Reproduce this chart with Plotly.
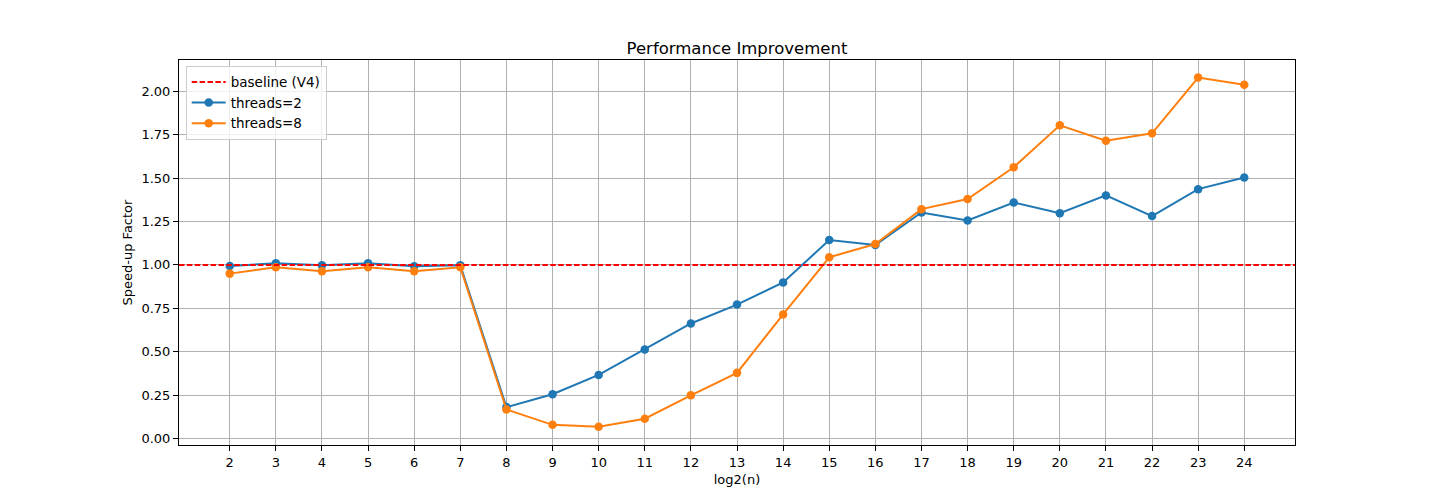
import plotly.graph_objects as go

log2n = list(range(2, 25))
threads_2 = [0.994, 1.01, 0.998, 1.01, 0.993, 0.998, 0.182, 0.256, 0.367, 0.514, 0.663,
             0.772, 0.899, 1.143, 1.115, 1.302, 1.256, 1.359, 1.298, 1.40, 1.281, 1.436, 1.503]
threads_8 = [0.95, 0.987, 0.964, 0.987, 0.964, 0.987, 0.168, 0.08, 0.069, 0.115, 0.25,
             0.379, 0.715, 1.044, 1.12, 1.321, 1.379, 1.562, 1.803, 1.715, 1.757, 2.078, 2.036]
baseline = 1.0

font = "DejaVu Sans"
fig = go.Figure()

# baseline drawn across the whole axis, shown in legend
fig.add_shape(type="line", xref="x domain", yref="y", x0=0, x1=1, y0=baseline, y1=baseline,
              line=dict(color="red", width=2, dash="5.5px,2.4px"),
              showlegend=True, name="baseline (V4)", legendrank=1)

fig.add_trace(go.Scatter(x=log2n, y=threads_2, name="threads=2", mode="lines+markers",
                         line=dict(color="#1f77b4", width=2), marker=dict(size=8.5),
                         legendrank=2))
fig.add_trace(go.Scatter(x=log2n, y=threads_8, name="threads=8", mode="lines+markers",
                         line=dict(color="#ff7f0e", width=2), marker=dict(size=8.5),
                         legendrank=3))

axis = dict(showline=True, linecolor="black", linewidth=1, mirror=True,
            ticks="outside", ticklen=5, tickcolor="black",
            showgrid=True, gridcolor="#b0b0b0", gridwidth=1, zeroline=False,
            tickfont=dict(family=font, size=13, color="black"))

fig.update_xaxes(axis, range=[0.9, 25.1], tickmode="array", tickvals=log2n,
                 title=dict(text="log2(n)", font=dict(family=font, size=13, color="black"),
                            standoff=6))
fig.update_yaxes(axis, range=[-0.036, 2.179], tickmode="linear", tick0=0, dtick=0.25,
                 tickformat=".2f",
                 title=dict(text="Speed-up Factor", font=dict(family=font, size=13, color="black"),
                            standoff=5))

fig.update_layout(
    width=1440, height=500,
    margin=dict(l=171, r=153, t=52, b=63),
    paper_bgcolor="white", plot_bgcolor="white",
    title=dict(text="Performance Improvement", x=0.5, xref="paper", xanchor="center",
               y=1, yref="paper", yanchor="bottom", pad=dict(b=6),
               font=dict(family=font, size=16.5, color="black")),
    font=dict(family=font, size=13, color="black"),
    legend=dict(x=0.006, y=0.985, xanchor="left", yanchor="top",
                bgcolor="rgba(255,255,255,0.8)", bordercolor="#cccccc", borderwidth=1,
                font=dict(family=font, size=13.5), itemwidth=34, tracegroupgap=0),
    showlegend=True,
)

fig.write_html("out.html")
